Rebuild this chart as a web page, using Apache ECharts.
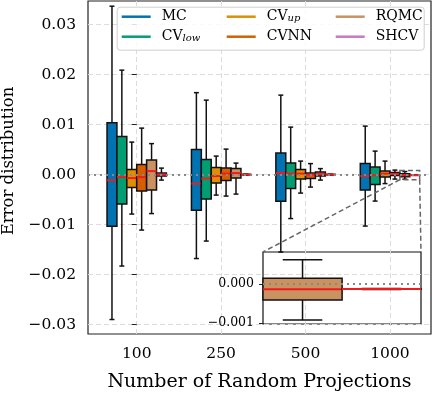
<!DOCTYPE html>
<html>
<head>
<meta charset="utf-8">
<script src="https://cdn.jsdelivr.net/npm/echarts@6/dist/echarts.min.js"></script>
<style>
  html, body { margin: 0; padding: 0; background: #fff; }
  #chart { width: 432px; height: 393px; }
</style>
</head>
<body>
<div id="chart"></div>
<script>
var categories = ['100', '250', '500', '1000'];
var methods = ['MC', 'CV_low', 'CV_up', 'CVNN', 'RQMC', 'SHCV'];
var colors = ['#0173b2', '#029e73', '#de8f05', '#d55e00', '#ca9161', '#cc78bc'];

// one row per category: [min, q1, median, q3, max]
var mcBoxes = [
  [-0.0290, -0.01034, -0.00114, 0.0104, 0.0337],
  [-0.0168, -0.00714, -0.0018, 0.0050, 0.0164],
  [-0.0155, -0.00534, 0.0003, 0.0043, 0.0159],
  [-0.0103, -0.0031, -0.0003, 0.0022, 0.0097]
];
var cvLowBoxes = [
  [-0.0183, -0.0059, -0.0005, 0.0076, 0.0209],
  [-0.0133, -0.0049, -0.0008, 0.0030, 0.0149],
  [-0.0088, -0.0028, 0.0002, 0.0023, 0.0095],
  [-0.0053, -0.0020, -0.00014, 0.0015, 0.0047]
];
var cvUpBoxes = [
  [-0.0079, -0.0026, -0.0007, 0.0010, 0.0065],
  [-0.0041, -0.0017, -0.0003, 0.0014, 0.0037],
  [-0.0037, -0.0009, 0.0002, 0.0010, 0.0027],
  [-0.0018, -0.0005, 0.0002, 0.0007, 0.0027]
];
var cvnnBoxes = [
  [-0.0111, -0.0033, -0.0005, 0.0020, 0.0093],
  [-0.0043, -0.0012, 0.0002, 0.0013, 0.0051],
  [-0.0025, -0.0008, 0.0000, 0.0003, 0.0022],
  [-0.0009, -0.0002, 0.0001, 0.0004, 0.0009]
];
var rqmcBoxes = [
  [-0.0078, -0.0031, 0.0007, 0.0029, 0.0062],
  [-0.0039, -0.0007, 0.0003, 0.0012, 0.0023],
  [-0.0011, -0.0003, 0.0001, 0.0005, 0.0012],
  [-0.00092, -0.00041, -0.000135, 0.000145, 0.00061]
];
var shcvBoxes = [
  [-0.0011, -0.0003, 0.0000, 0.0003, 0.0013],
  [-0.0001, -0.00005, 0.0000, 0.00005, 0.0001],
  [-0.0001, -0.00004, 0.0000, 0.00004, 0.0001],
  [-0.00014, -0.000135, -0.00013, -0.000125, -0.00012]
];
var allBoxes = [mcBoxes, cvLowBoxes, cvUpBoxes, cvnnBoxes, rqmcBoxes, shcvBoxes];

var yTicks = [-0.03, -0.02, -0.01, 0, 0.01, 0.02, 0.03];
var insetTicks = [-0.001, 0];
var zoomX = [3.1174, 3.3516];   // RQMC..SHCV boxes of the last group
var zoomY = [-0.00102, 0.00081];

var offsets = [-0.293, -0.176, -0.0586, 0.0586, 0.176, 0.293];
var boxW = 0.1173;
var serif = 'DejaVu Serif';

var chart = echarts.init(document.getElementById('chart'));

function boxRenderer(k) {
  return function (params, api) {
    var x = api.value(0) + offsets[k];
    var lo = api.coord([x, api.value(1)]);
    var q1 = api.coord([x, api.value(2)]);
    var md = api.coord([x, api.value(3)]);
    var q3 = api.coord([x, api.value(4)]);
    var hi = api.coord([x, api.value(5)]);
    var w = api.size([boxW, 0])[0];
    var cx = lo[0];
    var ink = { stroke: '#111', lineWidth: 1.5 };
    return {
      type: 'group',
      children: [
        { type: 'line', shape: { x1: cx, y1: q3[1], x2: cx, y2: hi[1] }, style: ink },
        { type: 'line', shape: { x1: cx, y1: q1[1], x2: cx, y2: lo[1] }, style: ink },
        { type: 'line', shape: { x1: cx - w / 4, y1: hi[1], x2: cx + w / 4, y2: hi[1] }, style: ink },
        { type: 'line', shape: { x1: cx - w / 4, y1: lo[1], x2: cx + w / 4, y2: lo[1] }, style: ink },
        { type: 'rect', shape: { x: cx - w / 2, y: q3[1], width: w, height: q1[1] - q3[1] },
          style: { fill: colors[k], stroke: '#111', lineWidth: 1.5 } },
        { type: 'line', shape: { x1: cx - w / 2, y1: md[1], x2: cx + w / 2, y2: md[1] },
          style: { stroke: '#f21b1b', lineWidth: 2 } }
      ]
    };
  };
}

function fmt(d) {
  return function (v) {
    return (v < 0 ? '\u2212' : '') + Math.abs(v).toFixed(d);
  };
}

function legendLabel(name) {
  var parts = name.split('_');
  return parts.length > 1 ? '{n|' + parts[0] + '}{s|' + parts[1] + '}' : name;
}

var series = [{
  type: 'line', data: [], z: 1, silent: true,
  markLine: {
    symbol: 'none', silent: true, label: { show: false },
    lineStyle: { color: '#888', type: [2, 4], width: 2 },
    data: [{ yAxis: 0 }]
  }
}];
methods.forEach(function (m, k) {
  series.push({
    name: m, type: 'custom', renderItem: boxRenderer(k),
    itemStyle: { color: colors[k] },
    encode: { x: 0, y: [1, 2, 3, 4, 5] },
    data: allBoxes[k].map(function (b, i) { return [i].concat(b); })
  });
});
// inset: last group, RQMC and SHCV
[4, 5].forEach(function (k) {
  series.push({
    name: methods[k], type: 'custom', renderItem: boxRenderer(k),
    xAxisIndex: 1, yAxisIndex: 1, z: 2,
    itemStyle: { color: colors[k] },
    encode: { x: 0, y: [1, 2, 3, 4, 5] },
    data: [[3].concat(allBoxes[k][3])]
  });
});
series.push({
  type: 'line', data: [], xAxisIndex: 1, yAxisIndex: 1, z: 3, silent: true,
  markLine: {
    symbol: 'none', silent: true, label: { show: false },
    lineStyle: { color: '#888', type: [2, 4], width: 2 },
    data: [{ yAxis: 0 }]
  }
});

var legendLeft = [116.7, 221.7, 330.7];
var legendText = {
  fontFamily: serif, fontSize: 14, color: '#000', lineHeight: 14, padding: [0, 0, 0, 6],
  rich: {
    n: { fontFamily: serif, fontSize: 14, lineHeight: 14, color: '#000' },
    s: { fontFamily: serif, fontSize: 10, fontStyle: 'italic', lineHeight: 4, verticalAlign: 'bottom', color: '#000' }
  }
};

var option = {
  animation: false,
  grid: [
    { left: 88, top: 1, width: 343, height: 333, show: true, borderColor: '#222', borderWidth: 1.2,
      backgroundColor: 'transparent', outerBoundsMode: 'none' },
    { left: 263, top: 252, width: 158, height: 72, show: true, borderColor: '#111', borderWidth: 1.2,
      backgroundColor: 'transparent', outerBoundsMode: 'none' }
  ],
  xAxis: [{
    type: 'value', min: -0.577, max: 3.486, gridIndex: 0,
    name: 'Number of Random Projections', nameLocation: 'middle', nameGap: 39,
    nameTextStyle: { fontFamily: serif, fontSize: 19, color: '#000' },
    axisLine: { show: false },
    axisTick: { show: true, length: 5, customValues: [0, 1, 2, 3], lineStyle: { color: '#222' } },
    axisLabel: { customValues: [0, 1, 2, 3], formatter: function (v) { return categories[Math.round(v)]; },
      fontFamily: serif, fontSize: 15.5, color: '#000', margin: 12 },
    splitLine: { show: true, lineStyle: { color: '#dcdcdc', type: [5, 3], width: 1 } }
  }, {
    type: 'value', min: zoomX[0], max: zoomX[1], gridIndex: 1, show: false
  }],
  yAxis: [{
    type: 'value', min: -0.0319, max: 0.03474, gridIndex: 0,
    name: 'Error distribution', nameLocation: 'middle', nameGap: 68,
    nameTextStyle: { fontFamily: serif, fontSize: 16.5, color: '#000', padding: [0, 0, 0, 13] },
    axisLine: { show: false },
    axisTick: { show: true, length: 5, customValues: yTicks, lineStyle: { color: '#222' } },
    axisLabel: { customValues: yTicks, formatter: fmt(2), fontFamily: serif, fontSize: 15.5, color: '#000', margin: 12 },
    splitLine: { show: true, lineStyle: { color: '#dcdcdc', type: [5, 3], width: 1 } }
  }, {
    type: 'value', min: zoomY[0], max: zoomY[1], gridIndex: 1,
    axisLine: { show: false },
    axisTick: { show: true, length: 4, customValues: insetTicks, lineStyle: { color: '#222' } },
    axisLabel: { customValues: insetTicks, formatter: fmt(3), fontFamily: serif, fontSize: 12.5, color: '#000', margin: 9 },
    splitLine: { show: false }
  }],
  legend: [0, 1, 2].map(function (c) {
    return {
      orient: 'vertical', left: legendLeft[c], top: 6.7, itemGap: 6, itemWidth: 29, itemHeight: 2.5,
      icon: 'rect', padding: [3, 0, 0, 5], selectedMode: false,
      data: methods.slice(c * 2, c * 2 + 2), formatter: legendLabel, textStyle: legendText
    };
  }),
  graphic: [{
    id: 'legendFrame', type: 'rect', left: 116.7, top: 6.7, z: 3, silent: true,
    shape: { width: 307, height: 43, r: 3 },
    style: { fill: 'rgba(255,255,255,0.85)', stroke: '#cfcfcf', lineWidth: 1 }
  }],
  series: series
};

chart.setOption(option);

// zoom rectangle and connectors, placed through the two grids' scales
var a = chart.convertToPixel({ gridIndex: 0 }, [zoomX[0], zoomY[1]]);
var b = chart.convertToPixel({ gridIndex: 0 }, [zoomX[1], zoomY[0]]);
var ia = chart.convertToPixel({ gridIndex: 1 }, [zoomX[0], zoomY[1]]);
var ib = chart.convertToPixel({ gridIndex: 1 }, [zoomX[1], zoomY[1]]);
var dash = { stroke: '#666', lineWidth: 1.5, lineDash: [5, 3], fill: null };
chart.setOption({
  graphic: [
    { id: 'zoomRect', type: 'rect', z: 5, silent: true,
      shape: { x: a[0], y: a[1], width: b[0] - a[0], height: b[1] - a[1] }, style: dash },
    { id: 'conn1', type: 'line', z: 5, silent: true,
      shape: { x1: a[0], y1: b[1], x2: ia[0], y2: ia[1] }, style: dash },
    { id: 'conn2', type: 'line', z: 5, silent: true,
      shape: { x1: b[0], y1: b[1], x2: ib[0], y2: ib[1] }, style: dash }
  ]
});

window.addEventListener('resize', function () {
  chart.resize();
});
</script>
</body>
</html>
